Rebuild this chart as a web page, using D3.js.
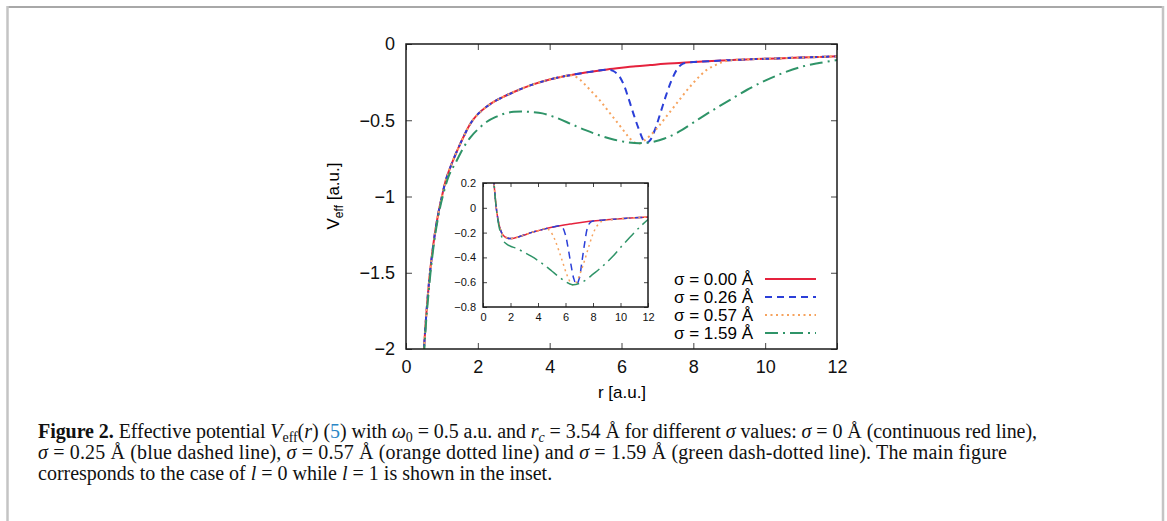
<!DOCTYPE html>
<html>
<head>
<meta charset="utf-8">
<script src="https://cdn.jsdelivr.net/npm/d3@7"></script>
<style>
  body { margin: 0; background: #fff; }
  text { white-space: pre; }
</style>
</head>
<body>
<svg id="fig" width="1167" height="521"></svg>
<script>
// values: [r, V_eff]
// main plot, l = 0
const mainRed = [[0.45,-2.22],[0.5,-2.0],[0.55,-1.82],[0.6,-1.67],[0.65,-1.54],[0.7,-1.43],[0.8,-1.25],[0.9,-1.11],[1.0,-1.0],[1.1,-0.9],[1.2,-0.83],[1.35,-0.74],[1.5,-0.66],[1.65,-0.585],[1.8,-0.52],[2.0,-0.46],[2.25,-0.41],[2.5,-0.372],[3.0,-0.315],[3.5,-0.268],[4.0,-0.233],[4.4,-0.212],[4.8,-0.195],[5.2,-0.18],[5.6,-0.167],[6.0,-0.156],[6.4,-0.146],[6.8,-0.138],[7.2,-0.13],[7.6,-0.124],[8.0,-0.118],[8.4,-0.113],[8.8,-0.108],[9.2,-0.104],[9.6,-0.1],[10.0,-0.097],[10.5,-0.093],[11.0,-0.089],[11.5,-0.085],[12.0,-0.081]];
const mainBlue = [[0.45,-2.22],[0.5,-2.0],[0.55,-1.82],[0.6,-1.67],[0.65,-1.54],[0.7,-1.43],[0.8,-1.25],[0.9,-1.11],[1.0,-1.0],[1.1,-0.9],[1.2,-0.83],[1.35,-0.74],[1.5,-0.66],[1.65,-0.585],[1.8,-0.52],[2.0,-0.46],[2.25,-0.41],[2.5,-0.372],[3.0,-0.315],[3.5,-0.268],[4.0,-0.233],[4.4,-0.212],[4.8,-0.195],[5.2,-0.18],[5.6,-0.168],[5.75,-0.175],[5.9,-0.2],[6.05,-0.26],[6.2,-0.36],[6.35,-0.47],[6.5,-0.57],[6.62,-0.635],[6.7,-0.648],[6.8,-0.63],[6.95,-0.55],[7.1,-0.44],[7.25,-0.33],[7.4,-0.235],[7.55,-0.165],[7.7,-0.13],[8.0,-0.118],[8.4,-0.113],[8.8,-0.108],[9.2,-0.104],[9.6,-0.1],[10.0,-0.097],[10.5,-0.093],[11.0,-0.089],[11.5,-0.085],[12.0,-0.081]];
const mainOrange = [[0.45,-2.22],[0.5,-2.0],[0.55,-1.82],[0.6,-1.67],[0.65,-1.54],[0.7,-1.43],[0.8,-1.25],[0.9,-1.11],[1.0,-1.0],[1.1,-0.9],[1.2,-0.83],[1.35,-0.74],[1.5,-0.66],[1.65,-0.585],[1.8,-0.52],[2.0,-0.46],[2.25,-0.41],[2.5,-0.372],[3.0,-0.315],[3.5,-0.268],[4.0,-0.233],[4.4,-0.212],[4.6,-0.205],[4.8,-0.225],[5.0,-0.27],[5.2,-0.32],[5.4,-0.37],[5.6,-0.43],[5.8,-0.49],[6.0,-0.55],[6.2,-0.61],[6.35,-0.645],[6.5,-0.652],[6.65,-0.63],[6.8,-0.6],[7.0,-0.55],[7.2,-0.49],[7.4,-0.43],[7.6,-0.37],[7.8,-0.31],[8.0,-0.255],[8.2,-0.205],[8.4,-0.165],[8.6,-0.14],[8.8,-0.12],[9.0,-0.108],[9.2,-0.104],[9.6,-0.1],[10.0,-0.097],[10.5,-0.093],[11.0,-0.089],[11.5,-0.085],[12.0,-0.081]];
const mainGreen = [[0.46,-2.22],[0.51,-2.0],[0.56,-1.82],[0.61,-1.68],[0.7,-1.46],[0.8,-1.27],[0.9,-1.13],[1.0,-1.02],[1.2,-0.86],[1.4,-0.77],[1.6,-0.68],[1.8,-0.61],[2.0,-0.56],[2.25,-0.51],[2.5,-0.478],[2.75,-0.456],[3.0,-0.445],[3.25,-0.443],[3.5,-0.446],[3.8,-0.455],[4.2,-0.485],[4.6,-0.525],[5.0,-0.565],[5.4,-0.6],[5.8,-0.628],[6.2,-0.645],[6.5,-0.65],[6.8,-0.645],[7.2,-0.62],[7.6,-0.575],[8.0,-0.515],[8.5,-0.44],[9.0,-0.37],[9.5,-0.3],[10.0,-0.24],[10.5,-0.19],[11.0,-0.15],[11.5,-0.125],[12.0,-0.105]];

// inset, l = 1
const insetRed = [[0.72,0.32],[0.8,0.2],[0.9,0.07],[1.0,-0.03],[1.1,-0.1],[1.2,-0.15],[1.35,-0.2],[1.5,-0.225],[1.75,-0.243],[2.0,-0.248],[2.25,-0.245],[2.5,-0.238],[3.0,-0.22],[3.5,-0.2],[4.0,-0.185],[4.5,-0.17],[5.0,-0.157],[5.5,-0.146],[6.0,-0.136],[6.5,-0.128],[7.0,-0.12],[7.5,-0.113],[8.0,-0.107],[9.0,-0.097],[10.0,-0.088],[11.0,-0.081],[12.0,-0.075]];
const insetBlue = [[0.72,0.32],[0.8,0.2],[0.9,0.07],[1.0,-0.03],[1.1,-0.1],[1.2,-0.15],[1.35,-0.2],[1.5,-0.225],[1.75,-0.243],[2.0,-0.248],[2.25,-0.245],[2.5,-0.238],[3.0,-0.22],[3.5,-0.2],[4.0,-0.185],[4.5,-0.17],[5.0,-0.157],[5.6,-0.145],[5.8,-0.16],[6.0,-0.22],[6.2,-0.33],[6.4,-0.46],[6.6,-0.57],[6.8,-0.62],[7.0,-0.57],[7.2,-0.43],[7.4,-0.28],[7.6,-0.16],[7.8,-0.118],[8.0,-0.107],[9.0,-0.097],[10.0,-0.088],[11.0,-0.081],[12.0,-0.075]];
const insetOrange = [[0.72,0.32],[0.8,0.2],[0.9,0.07],[1.0,-0.03],[1.1,-0.1],[1.2,-0.15],[1.35,-0.2],[1.5,-0.225],[1.75,-0.243],[2.0,-0.248],[2.25,-0.245],[2.5,-0.238],[3.0,-0.22],[3.5,-0.2],[4.0,-0.185],[4.6,-0.167],[4.9,-0.19],[5.2,-0.25],[5.5,-0.34],[5.8,-0.44],[6.1,-0.54],[6.35,-0.6],[6.55,-0.625],[6.8,-0.6],[7.1,-0.52],[7.4,-0.42],[7.7,-0.31],[8.0,-0.21],[8.3,-0.145],[8.6,-0.112],[8.9,-0.102],[10.0,-0.088],[11.0,-0.081],[12.0,-0.075]];
const insetGreen = [[0.72,0.32],[0.8,0.2],[0.9,0.07],[1.0,-0.035],[1.1,-0.11],[1.2,-0.17],[1.35,-0.23],[1.5,-0.27],[1.75,-0.295],[2.0,-0.31],[2.5,-0.33],[3.0,-0.36],[3.5,-0.39],[4.0,-0.425],[4.5,-0.465],[5.0,-0.51],[5.5,-0.555],[6.0,-0.595],[6.5,-0.62],[7.0,-0.61],[7.5,-0.58],[8.0,-0.535],[8.5,-0.49],[9.0,-0.44],[9.5,-0.385],[10.0,-0.32],[10.5,-0.26],[11.0,-0.2],[11.5,-0.145],[12.0,-0.095]];

const legendLabels = ['σ = 0.00 Å', 'σ = 0.26 Å', 'σ = 0.57 Å', 'σ = 1.59 Å'];
const mainXTicks = [0, 2, 4, 6, 8, 10, 12];
const mainYTicks = [0, -0.5, -1, -1.5, -2];
const insetXTicks = [0, 2, 4, 6, 8, 10, 12];
const insetYTicks = [0.2, 0, -0.2, -0.4, -0.6, -0.8];

const colors = ['#e5223d', '#2b3fd8', '#f6a35e', '#2f9468'];
const dashes = [null, '7,5', '2,3.5', '13,5,2,5'];

let svg = d3.select('#fig');

// page frame
svg.append('line').attr('x1', 7).attr('x2', 1163).attr('y1', 7).attr('y2', 7)
  .attr('stroke', '#a8a8a8').attr('stroke-width', 2);
svg.append('line').attr('x1', 7.5).attr('x2', 7.5).attr('y1', 6).attr('y2', 521)
  .attr('stroke', '#c4c4c4').attr('stroke-width', 2.5);
svg.append('line').attr('x1', 1163).attr('x2', 1163).attr('y1', 6).attr('y2', 521)
  .attr('stroke', '#c4c4c4').attr('stroke-width', 2.5);

// draws one framed panel with mirrored inward ticks
function panel(id, x, y, xt, yt, opt) {
  let g = svg.append('g');
  let [x0, x1] = x.range();
  let [y0, y1] = y.range(); // y0 bottom, y1 top

  g.append('rect').attr('x', x0).attr('y', y1).attr('width', x1 - x0).attr('height', y0 - y1)
    .attr('fill', '#fff');

  svg.append('clipPath').attr('id', id).append('rect')
    .attr('x', x0).attr('y', y1).attr('width', x1 - x0).attr('height', y0 - y1);

  let fmt = d3.format('');
  let axes = [
    [d3.axisBottom(x).tickValues(xt).tickFormat(fmt), `translate(0,${y0})`, opt.xpad],
    [d3.axisTop(x).tickValues(xt).tickFormat(''), `translate(0,${y1})`, 0],
    [d3.axisLeft(y).tickValues(yt).tickFormat(fmt), `translate(${x0},0)`, opt.ypad],
    [d3.axisRight(y).tickValues(yt).tickFormat(''), `translate(${x1},0)`, 0]
  ];
  axes.forEach(([ax, tr, pad]) => {
    let a = g.append('g')
      .attr('transform', tr)
      .call(ax.tickSizeInner(-opt.tick).tickSizeOuter(0).tickPadding(pad));
    a.select('.domain').remove();
    a.selectAll('line').attr('stroke', '#444').attr('stroke-width', 1);
    a.selectAll('text')
      .attr('font-family', 'Liberation Sans, Arial, sans-serif')
      .attr('font-size', opt.font)
      .attr('fill', '#111');
  });

  let lines = g.append('g').attr('clip-path', `url(#${id})`);
  return {g, lines, box: [x0, y1, x1 - x0, y0 - y1]};
}

function drawCurves(p, x, y, series, width) {
  let line = d3.line()
    .x((d) => x(d[0]))
    .y((d) => y(d[1]))
    .curve(d3.curveCatmullRom.alpha(0.5));
  series.forEach((s, i) => {
    p.lines.append('path')
      .attr('d', line(s))
      .attr('fill', 'none')
      .attr('stroke', colors[i])
      .attr('stroke-width', width)
      .attr('stroke-dasharray', dashes[i]);
  });
  // border on top
  p.g.append('rect')
    .attr('x', p.box[0]).attr('y', p.box[1]).attr('width', p.box[2]).attr('height', p.box[3])
    .attr('fill', 'none').attr('stroke', '#1a1a1a').attr('stroke-width', 1.5);
}

// MAIN PLOT
let mainX = d3.scaleLinear().domain([0, 12]).range([406, 837]);
let mainY = d3.scaleLinear().domain([-2, 0]).range([349, 44]);
let mainP = panel('clipMain', mainX, mainY, mainXTicks, mainYTicks, {tick: 6, font: 18, xpad: 11, ypad: 11});
drawCurves(mainP, mainX, mainY, [mainRed, mainBlue, mainOrange, mainGreen], 2);

// axis titles
svg.append('text')
  .attr('x', 622).attr('y', 398)
  .attr('text-anchor', 'middle')
  .attr('font-family', 'Liberation Sans, Arial, sans-serif')
  .attr('font-size', 17)
  .text('r [a.u.]');

let yl = svg.append('text')
  .attr('transform', 'translate(339,196) rotate(-90)')
  .attr('text-anchor', 'middle')
  .attr('font-family', 'Liberation Sans, Arial, sans-serif')
  .attr('font-size', 17);
yl.append('tspan').text('V');
yl.append('tspan').attr('font-size', 12).attr('dy', 4).text('eff');
yl.append('tspan').attr('dy', -4).text(' [a.u.]');

// INSET
let insetX = d3.scaleLinear().domain([0, 12]).range([483, 648]);
let insetY = d3.scaleLinear().domain([-0.8, 0.2]).range([307, 183]);
let insetP = panel('clipInset', insetX, insetY, insetXTicks, insetYTicks, {tick: 4, font: 11, xpad: 6, ypad: 7});
drawCurves(insetP, insetX, insetY, [insetRed, insetBlue, insetOrange, insetGreen], 1.5);

// LEGEND
let leg = svg.append('g');
legendLabels.forEach((lab, i) => {
  let yy = 279 + i * 18;
  leg.append('text')
    .attr('x', 753).attr('y', yy)
    .attr('dy', '0.35em')
    .attr('text-anchor', 'end')
    .attr('font-family', 'Liberation Sans, Arial, sans-serif')
    .attr('font-size', 17)
    .text(lab);
  leg.append('line')
    .attr('x1', 765).attr('x2', 816).attr('y1', yy).attr('y2', yy)
    .attr('stroke', colors[i]).attr('stroke-width', 2)
    .attr('stroke-dasharray', dashes[i]);
});

// CAPTION
function capLine(y, len, parts) {
  let t = svg.append('text')
    .attr('x', 38).attr('y', y)
    .attr('font-family', 'Liberation Serif, Times New Roman, serif')
    .attr('font-size', 20)
    .attr('fill', '#111');
  if (len) t.attr('textLength', len).attr('lengthAdjust', 'spacing');
  let shift = 0;
  parts.forEach(([s, k]) => {
    let sp = t.append('tspan').text(s);
    let want = k.startsWith('sub') ? 4 : 0;
    if (want !== shift) { sp.attr('dy', want - shift); shift = want; }
    if (k.startsWith('sub')) sp.attr('font-size', 14);
    if (k === 'b') sp.attr('font-weight', 'bold');
    if (k === 'i' || k === 'subi') sp.attr('font-style', 'italic');
    if (k === 'link') sp.attr('fill', '#2a86c6');
  });
}

capLine(438, 999, [
  ['Figure 2.', 'b'], [' Effective potential ', ''], ['V', 'i'], ['eff', 'sub'], ['(', ''], ['r', 'i'],
  [') (', ''], ['5', 'link'], [') with ', ''], ['ω', 'i'], ['0', 'sub'], [' = 0.5 a.u. and ', ''],
  ['r', 'i'], ['c', 'subi'], [' = 3.54 Å for different ', ''], ['σ', 'i'], [' values: ', ''],
  ['σ', 'i'], [' = 0 Å (continuous red line),', '']
]);
capLine(459, 969, [
  ['σ', 'i'], [' = 0.25 Å (blue dashed line), ', ''], ['σ', 'i'], [' = 0.57 Å (orange dotted line) and ', ''],
  ['σ', 'i'], [' = 1.59 Å (green dash-dotted line). The main figure', '']
]);
capLine(480, null, [
  ['corresponds to the case of ', ''], ['l', 'i'], [' = 0 while ', ''], ['l', 'i'], [' = 1 is shown in the inset.', '']
]);
</script>
</body>
</html>
